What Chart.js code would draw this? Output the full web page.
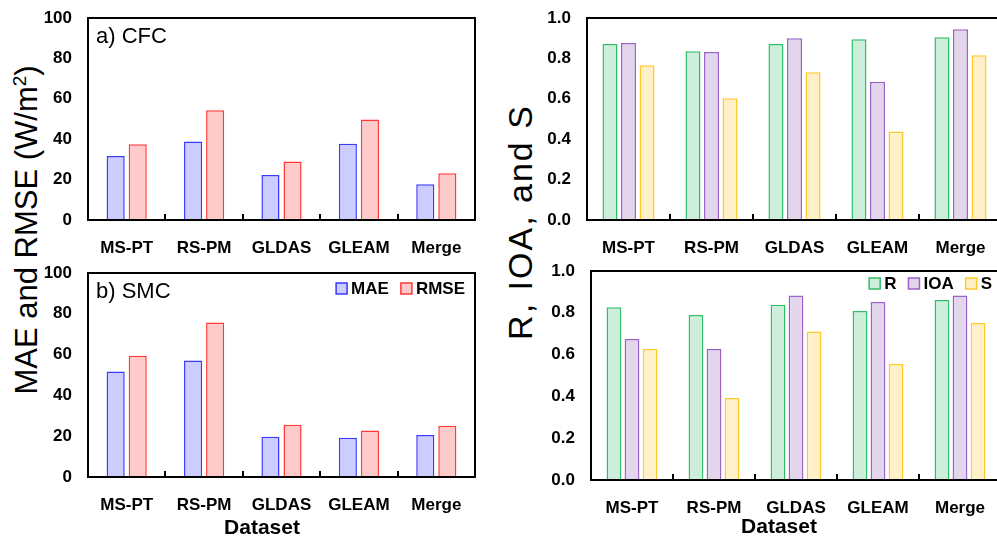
<!DOCTYPE html>
<html>
<head>
<meta charset="utf-8">
<script src="https://cdn.jsdelivr.net/npm/chart.js@4.4.0/dist/chart.umd.min.js"></script>
<style>
body{margin:0;width:997px;height:537px;overflow:hidden;background:#fff;position:relative;font-family:'Liberation Sans',Arial,sans-serif}
.panel{position:absolute}
.ytitle{position:absolute;transform:translate(-50%,-50%) rotate(-90deg);white-space:nowrap;color:#000}
.xtitle{position:absolute;transform:translate(-50%,-50%);white-space:nowrap;color:#000;font-weight:bold;font-size:21px}
</style>
</head>
<body>
<div class="ytitle" style="left:27px;top:230px;font-size:31px">MAE and RMSE (W/m<sup style="font-size:19px">2</sup>)</div>
<div class="ytitle" style="left:520px;top:222px;font-size:34px;letter-spacing:2px">R, IOA, and S</div>

<div class="panel" style="left:40px;top:0;width:450px;height:265px"><canvas id="chartA"></canvas></div>
<div class="panel" style="left:40px;top:255px;width:450px;height:282px"><canvas id="chartB"></canvas></div>
<div class="panel" style="left:530px;top:0;width:480px;height:265px"><canvas id="chartC"></canvas></div>
<div class="panel" style="left:530px;top:255px;width:480px;height:282px"><canvas id="chartD"></canvas></div>

<div class="xtitle" style="left:262px;top:527px">Dataset</div>
<div class="xtitle" style="left:779px;top:526px">Dataset</div>

<script>
// categories
const datasetNames = ['MS-PT', 'RS-PM', 'GLDAS', 'GLEAM', 'Merge'];

// a) CFC errors (W/m2)
const cfcMAE  = [31.7, 38.8, 22.3, 37.8, 17.7];
const cfcRMSE = [37.5, 54.3, 29.0, 49.8, 23.1];
// b) SMC errors (W/m2)
const smcMAE  = [51.7, 57.1, 19.7, 19.2, 20.6];
const smcRMSE = [59.4, 75.7, 25.6, 22.8, 25.1];

// CFC skill scores
const cfcR   = [0.871, 0.835, 0.871, 0.895, 0.905];
const cfcIOA = [0.876, 0.832, 0.900, 0.685, 0.944];
const cfcS   = [0.766, 0.603, 0.731, 0.438, 0.816];
// SMC skill scores
const smcR   = [0.826, 0.789, 0.839, 0.809, 0.861];
const smcIOA = [0.675, 0.627, 0.883, 0.852, 0.883];
const smcS   = [0.627, 0.392, 0.711, 0.555, 0.751];

// axis ranges
const errAxis = {min: 0, max: 100, step: 20};
const skillAxis = {min: 0, max: 1, step: 0.2};

const FONT = "'Liberation Sans', Arial, sans-serif";

const colors = {
    MAE:  {fill: '#ccccff', line: '#3a3aff'},
    RMSE: {fill: '#ffcaca', line: '#ff3838'},
    R:    {fill: '#cdeedb', line: '#2fbf6a'},
    IOA:  {fill: '#e2d5ec', line: '#9a63c8'},
    S:    {fill: '#fff0c8', line: '#ffc928'}
};

// frame, category ticks, panel label and legend
const decor = {
    id: 'decor',
    afterDraw(chart, args, opts) {
        const ctx = chart.ctx;
        const a = chart.chartArea;
        const xs = chart.scales.x;
        ctx.save();
        ctx.strokeStyle = '#000';
        ctx.lineWidth = 2;
        ctx.strokeRect(a.left, a.top, a.right - a.left, a.bottom - a.top);
        // small ticks at category boundaries
        const n = chart.data.labels.length;
        for (let i = 1; i < n; i++) {
            const px = Math.round((xs.getPixelForValue(i - 1) + xs.getPixelForValue(i)) / 2);
            ctx.beginPath();
            ctx.moveTo(px, a.bottom);
            ctx.lineTo(px, a.bottom - 6);
            ctx.stroke();
        }
        if (opts.label) {
            ctx.fillStyle = '#000';
            ctx.font = '22px ' + FONT;
            ctx.textBaseline = 'middle';
            ctx.textAlign = 'left';
            ctx.fillText(opts.label, a.left + 8, a.top + 19);
        }
        if (opts.legend) {
            ctx.font = 'bold 17px ' + FONT;
            ctx.textBaseline = 'middle';
            ctx.textAlign = 'left';
            const box = 11, gap = 4, space = 12;
            const items = chart.data.datasets.map(d => ({
                label: d.label, fill: d.backgroundColor, line: d.borderColor,
                w: box + gap + ctx.measureText(d.label).width
            }));
            let total = items.reduce((s, it) => s + it.w, 0) + space * (items.length - 1);
            let x = a.right - opts.legend.right - total;
            const y = a.top + opts.legend.top;
            items.forEach(it => {
                ctx.fillStyle = it.fill;
                ctx.fillRect(x, y, box, box);
                ctx.strokeStyle = it.line;
                ctx.lineWidth = 1.5;
                ctx.strokeRect(x, y, box, box);
                ctx.fillStyle = '#000';
                ctx.fillText(it.label, x + box + gap, y + box / 2 + 1);
                x += it.w + space;
            });
        }
        ctx.restore();
    }
};

function bar(label, data, key) {
    return {
        label: label,
        data: data,
        backgroundColor: colors[key].fill,
        borderColor: colors[key].line,
        borderWidth: 1.5
    };
}

function makePanel(id, cfg) {
    const ctx = document.getElementById(id).getContext('2d');
    return new Chart(ctx, {
        type: 'bar',
        data: {labels: datasetNames, datasets: cfg.datasets},
        options: {
            responsive: true,
            maintainAspectRatio: false,
            animation: false,
            categoryPercentage: cfg.catPct,
            barPercentage: cfg.barPct,
            layout: {padding: {top: cfg.padTop, right: cfg.padRight, left: 0, bottom: 0}},
            scales: {
                x: {
                    grid: {display: false},
                    border: {display: false},
                    ticks: {color: '#000', padding: 10, font: {family: FONT, size: 17, weight: 'bold'}},
                    afterFit: s => { s.height = cfg.xH; s.paddingLeft = 0; s.paddingRight = 0; }
                },
                y: {
                    min: cfg.axis.min,
                    max: cfg.axis.max,
                    grid: {display: false},
                    border: {display: false},
                    ticks: {
                        stepSize: cfg.axis.step,
                        color: '#000',
                        padding: 8,
                        font: {family: FONT, size: 17, weight: 'bold'},
                        callback: v => cfg.axis.max === 1 ? Number(v).toFixed(1) : v
                    },
                    afterFit: s => { s.width = cfg.yW; s.paddingTop = 0; s.paddingBottom = 0; }
                }
            },
            plugins: {
                legend: {display: false},
                tooltip: {enabled: false},
                decor: {label: cfg.label, legend: cfg.legend}
            }
        },
        plugins: [decor]
    });
}

makePanel('chartA', {
    datasets: [bar('MAE', cfcMAE, 'MAE'), bar('RMSE', cfcRMSE, 'RMSE')],
    axis: errAxis, label: 'a) CFC',
    catPct: 0.57, barPct: 0.82,
    padTop: 18, padRight: 15, yW: 48, xH: 45
});

makePanel('chartB', {
    datasets: [bar('MAE', smcMAE, 'MAE'), bar('RMSE', smcRMSE, 'RMSE')],
    axis: errAxis, label: 'b) SMC',
    legend: {top: 10, right: 10},
    catPct: 0.57, barPct: 0.82,
    padTop: 18, padRight: 15, yW: 48, xH: 60
});

makePanel('chartC', {
    datasets: [bar('R', cfcR, 'R'), bar('IOA', cfcIOA, 'IOA'), bar('S', cfcS, 'S')],
    axis: skillAxis,
    catPct: 0.67, barPct: 0.81,
    padTop: 18, padRight: 8, yW: 57, xH: 45
});

makePanel('chartD', {
    datasets: [bar('R', smcR, 'R'), bar('IOA', smcIOA, 'IOA'), bar('S', smcS, 'S')],
    axis: skillAxis,
    legend: {top: 7, right: 9},
    catPct: 0.66, barPct: 0.82,
    padTop: 16, padRight: 9, yW: 61, xH: 57
});
</script>
</body>
</html>
